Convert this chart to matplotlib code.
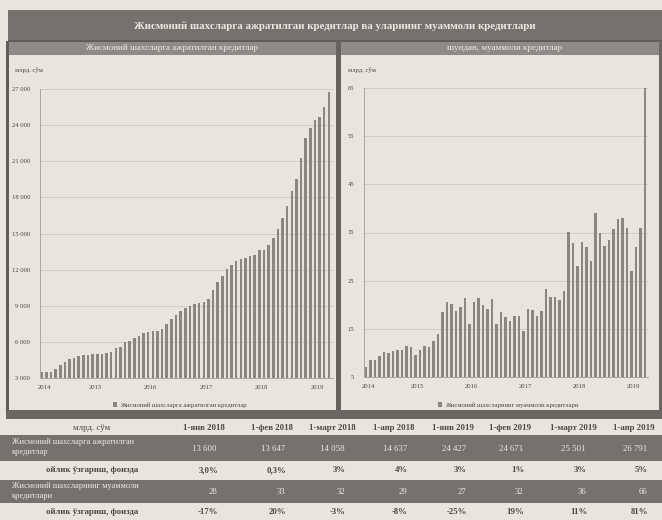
import numpy as np
import pandas as pd
import matplotlib
matplotlib.use('Agg')
import matplotlib.pyplot as plt
from matplotlib.patches import Rectangle
from matplotlib.ticker import FuncFormatter

plt.rcParams['font.family'] = ['Liberation Serif', 'DejaVu Serif']

# monthly points, 1-Feb 2014 .. 1-Apr 2019
months = pd.date_range('2014-02-01', '2019-04-01', freq='MS')

# loans to individuals, bln sum
loans = [3500, 3500, 3500, 3750, 4100, 4300, 4550, 4700, 4800, 4900,
         4900, 5000, 5000, 5000, 5050, 5200, 5450, 5600, 5950, 6100,
         6350, 6500, 6700, 6800, 6900, 6900, 7100, 7450, 7900, 8250,
         8600, 8850, 9000, 9150, 9200, 9350, 9600, 10300, 11000, 11500,
         12050, 12400, 12700, 12900, 13000, 13100, 13200, 13600, 13647, 14058,
         14637, 15400, 16300, 17300, 18500, 19500, 21250, 22900, 23800, 24427,
         24671, 25501, 26791]

# of them, problem loans, bln sum
bad = [7.0, 8.5, 8.6, 9.4, 10.1, 10.0, 10.5, 10.7, 10.7, 11.4,
       11.2, 9.6, 10.6, 11.4, 11.3, 12.5, 13.9, 18.4, 20.5, 20.1,
       18.6, 19.6, 21.5, 16.1, 20.5, 21.5, 19.9, 19.2, 21.2, 16.0,
       18.4, 17.5, 16.7, 17.6, 17.6, 14.5, 19.2, 19.0, 17.7, 18.8,
       23.2, 21.6, 21.6, 21.0, 22.8, 35.1, 32.9, 28, 33, 32,
       29, 39.0, 34.9, 32.3, 33.4, 35.8, 37.9, 38.1, 35.9, 27,
       32, 36, 66]

tbl_cols = ['1-янв 2018', '1-фев 2018', '1-март 2018', '1-апр 2018',
            '1-янв 2019', '1-фев 2019', '1-март 2019', '1-апр 2019']
tbl_loans = ['13 600', '13 647', '14 058', '14 637', '24 427', '24 671', '25 501', '26 791']
tbl_loans_chg = ['3,0%', '0,3%', '3%', '4%', '3%', '1%', '3%', '5%']
tbl_bad = ['28', '33', '32', '29', '27', '32', '36', '66']
tbl_bad_chg = ['-17%', '20%', '-3%', '-8%', '-25%', '19%', '11%', '81%']

paper = '#e8e4de'
dark = '#75726e'
mid = '#8e8b87'
ink = '#4b4845'
bar_c = '#8a8783'
light_txt = '#ece8e2'

W, H = 662, 520
fig = plt.figure(figsize=(W/100, H/100), dpi=100, facecolor=paper)

# background layer in pixel coords
bg = fig.add_axes([0, 0, 1, 1], zorder=0)
bg.set_xlim(0, W)
bg.set_ylim(H, 0)
bg.axis('off')

def box(x0, y0, x1, y1, c):
    bg.add_patch(Rectangle((x0, y0), x1-x0, y1-y0, color=c, lw=0))

box(8, 10, W, 41, dark)
box(8, 41, W, 55, mid)
box(8, 40, W, 42, '#5f5c59')
box(6, 41, 9, 414, '#5f5c59')
box(336, 41, 341, 414, '#66635f')
box(6, 410, W, 419, '#6a6763')
box(659, 41, W, 414, '#6a6763')

bg.text(335, 26, 'Жисмоний шахсларга ажратилган кредитлар ва уларнинг муаммоли кредитлари',
        ha='center', va='center', fontsize=7.8, fontweight='bold', color=light_txt)
bg.text(172, 48, 'Жисмоний шахсларга ажратилган кредитлар', ha='center', va='center',
        fontsize=6.5, color=light_txt)
bg.text(505, 48, 'шундан, муаммоли кредитлар', ha='center', va='center',
        fontsize=6.5, color=light_txt)

# table
box(0, 435, W, 461, dark)
box(0, 480, W, 503, dark)
col_x = [204, 272, 332, 394, 453, 510, 573, 634]
bg.text(92, 428, 'млрд. сўм', ha='center', va='center', fontsize=6.3, color=ink)
for x, c in zip(col_x, tbl_cols):
    bg.text(x, 428, c, ha='center', va='center', fontsize=6.3, color=ink, fontweight='bold')
bg.text(12, 447, 'Жисмоний шахсларга ажратилган\nкредитлар', ha='left', va='center',
        fontsize=6, color=light_txt, linespacing=1.3)
bg.text(12, 491, 'Жисмоний шахсларнинг муаммоли\nкредитлари', ha='left', va='center',
        fontsize=6, color=light_txt, linespacing=1.3)
bg.text(92, 470, 'ойлик ўзгариш, фоизда', ha='center', va='center', fontsize=6.3,
        color=ink, fontweight='bold')
bg.text(92, 512, 'ойлик ўзгариш, фоизда', ha='center', va='center', fontsize=6.3,
        color=ink, fontweight='bold')
for x, a, b, c, d in zip(col_x, tbl_loans, tbl_loans_chg, tbl_bad, tbl_bad_chg):
    bg.text(x + 13, 449, a, ha='right', va='center', fontsize=6.3, color=light_txt)
    bg.text(x + 14, 470, b, ha='right', va='center', fontsize=6.3, color=ink, fontweight='bold')
    bg.text(x + 13, 492, c, ha='right', va='center', fontsize=6.3, color=light_txt)
    bg.text(x + 14, 512, d, ha='right', va='center', fontsize=6.3, color=ink, fontweight='bold')

# year ticks: first bar and each January
idx = np.arange(len(months))
jan = [i for i in idx if months[i].month == 1]
tick_pos = [0.5] + [i + 0.5 for i in jan]
tick_lab = ['2014'] + [str(months[i].year) for i in jan]

def style(ax, ylim, yt, fmt):
    ax.set_facecolor('none')
    ax.set_ylim(*ylim)
    ax.set_yticks(yt)
    ax.yaxis.set_major_formatter(FuncFormatter(fmt))
    ax.set_xticks(tick_pos)
    ax.set_xticklabels(tick_lab)
    ax.tick_params(length=0, labelsize=4.8, colors=ink)
    ax.tick_params(axis='y', pad=7)
    ax.tick_params(axis='x', pad=5)
    ax.grid(axis='y', color='#cbc7c1', lw=0.6)
    ax.set_axisbelow(True)
    for s in ('top', 'right'):
        ax.spines[s].set_visible(False)
    for s in ('left', 'bottom'):
        ax.spines[s].set_color('#a9a5a0')
        ax.spines[s].set_linewidth(0.7)

ax1 = fig.add_axes([40/W, 1-378/H, 293/W, 289/H], zorder=1)
ax1.bar(idx, loans, width=0.55, color=bar_c, label='Жисмоний шахсларга ажратилган кредитлар')
ax1.set_xlim(-0.37, 62.9)
style(ax1, (3000, 27000), range(3000, 27001, 3000),
      lambda v, p: f'{int(v):,}'.replace(',', ' '))
fig.text(15/W, 1-70/H, 'млрд. сўм', fontsize=4.8, color=ink, va='center')
ax1.legend(loc='center', bbox_to_anchor=(180/W, 1-405/H), bbox_transform=fig.transFigure,
           frameon=False, fontsize=4.8, handlelength=0.6, handleheight=0.6,
           handletextpad=0.4, labelcolor=ink)

ax2 = fig.add_axes([364/W, 1-377/H, 284/W, 289/H], zorder=1)
ax2.bar(idx, bad, width=0.55, color=bar_c, label='Жисмоний шахсларнинг муаммоли кредитлари')
ax2.set_xlim(-0.44, 62.7)
style(ax2, (5, 65), range(5, 66, 10), lambda v, p: f'{int(v)}')
fig.text(348/W, 1-70/H, 'млрд. сўм', fontsize=4.8, color=ink, va='center')
ax2.legend(loc='center', bbox_to_anchor=(508/W, 1-405/H), bbox_transform=fig.transFigure,
           frameon=False, fontsize=4.8, handlelength=0.6, handleheight=0.6,
           handletextpad=0.4, labelcolor=ink)

fig.savefig('out.png', dpi=100, facecolor=paper)
